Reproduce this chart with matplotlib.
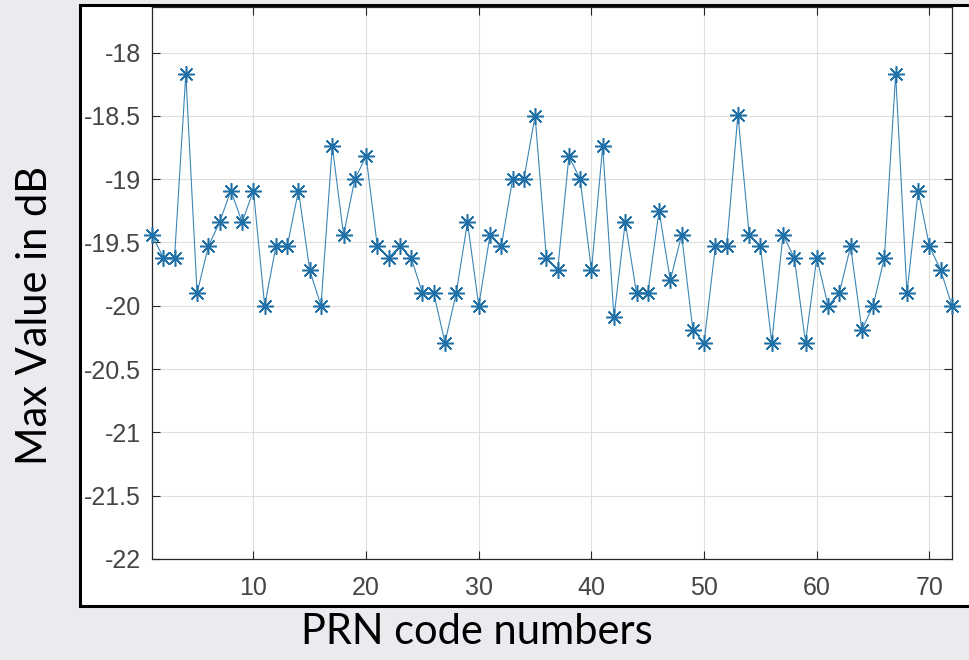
import matplotlib.pyplot as plt
from matplotlib.patches import Rectangle

# max correlation value (dB) for each PRN code
prn = list(range(1, 73))
max_db = [
    -19.44, -19.62, -19.62, -18.17, -19.90, -19.53, -19.34, -19.09, -19.34, -19.09,
    -20.00, -19.53, -19.53, -19.09, -19.72, -20.00, -18.74, -19.44, -19.00, -18.82,
    -19.53, -19.62, -19.53, -19.62, -19.90, -19.90, -20.29, -19.90, -19.34, -20.00,
    -19.44, -19.53, -19.00, -19.00, -18.50, -19.62, -19.72, -18.82, -19.00, -19.72,
    -18.74, -20.09, -19.34, -19.90, -19.90, -19.25, -19.80, -19.44, -20.19, -20.29,
    -19.53, -19.53, -18.49, -19.44, -19.53, -20.29, -19.44, -19.62, -20.29, -19.62,
    -20.00, -19.90, -19.53, -20.19, -20.00, -19.62, -18.17, -19.90, -19.09, -19.53,
    -19.72, -20.00,
]
xticks = [10, 20, 30, 40, 50, 60, 70]
yticks = [-22, -21.5, -21, -20.5, -20, -19.5, -19, -18.5, -18]
yticklabels = ['-22', '-21.5', '-21', '-20.5', '-20', '-19.5', '-19', '-18.5', '-18']

W, H = 969, 660
fig = plt.figure(figsize=(W / 100, H / 100), dpi=100, facecolor='#e9ebef')

# white figure frame with black border
fig.patches.append(Rectangle((80 / W, 1 - 606 / H), 920 / W, 601 / H,
                             transform=fig.transFigure, facecolor='white',
                             edgecolor='black', linewidth=2.2, zorder=0))

ax = fig.add_axes([152 / W, 1 - 559 / H, 800 / W, 552 / H])
ax.set_zorder(2)
ax.patch.set_facecolor('white')
ax.plot(prn, max_db, color='#3a86b6', linewidth=0.8, marker=(8, 2, 0),
        markersize=12, markeredgewidth=1.1, markeredgecolor='#1f70a6',
        clip_on=False, zorder=3)

ax.set_xlim(1, 72)
ax.set_ylim(-22, -17.64)
ax.set_xticks(xticks)
ax.set_yticks(yticks)
ax.set_yticklabels(yticklabels)
ax.grid(True, color='#dedede', linewidth=0.8)
ax.set_axisbelow(True)
ax.tick_params(direction='in', length=6, width=0.8, colors='#262626',
               labelsize=18, top=True, right=True)
ax.tick_params(axis='y', pad=8)
ax.tick_params(axis='x', pad=12)
for lab in ax.get_xticklabels() + ax.get_yticklabels():
    lab.set_family('Liberation Sans')
    lab.set_color('#454545')
for sp in ax.spines.values():
    sp.set_color('#262626')
    sp.set_linewidth(0.9)

fig.text(35 / W, 1 - 315 / H, 'Max Value in dB', rotation=90, ha='center',
         va='center', fontsize=30, family='Lato', color='black')
fig.text(477 / W, 1 - 632 / H, 'PRN code numbers', ha='center', va='center',
         fontsize=30, family='Lato', color='black')

fig.savefig('out.png', dpi=100, facecolor=fig.get_facecolor())
